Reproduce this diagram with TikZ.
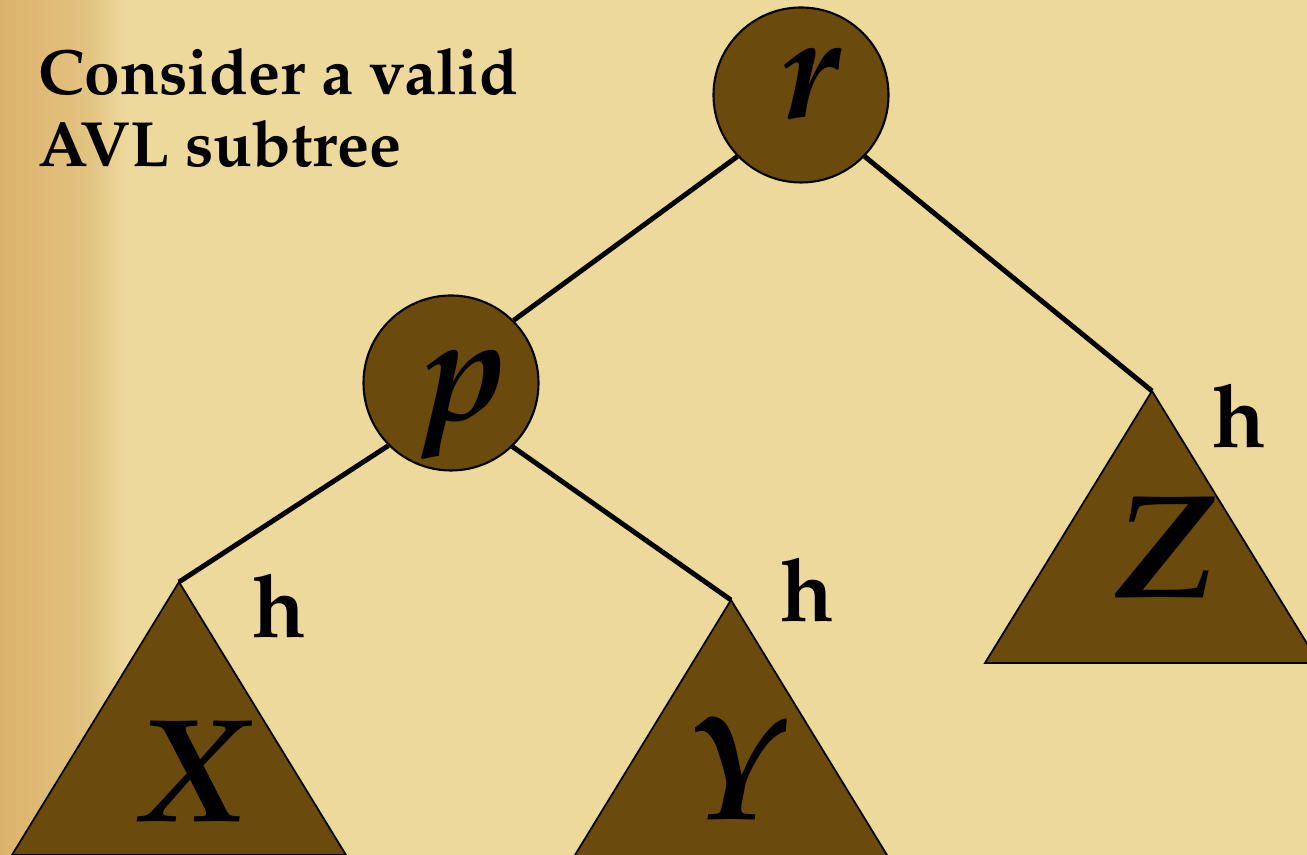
\documentclass[tikz,border=0pt]{standalone}
\usepackage[T1]{fontenc}
\usepackage{mathpazo}
\usepackage{tikz}
\usetikzlibrary{positioning,calc}
\definecolor{avlparch}{HTML}{EDD99C}
\definecolor{avledge}{HTML}{DBB26A}
\definecolor{avlbrown}{HTML}{6B4A0E}

\begin{document}
\begin{tikzpicture}[
    treenode/.style={circle, draw=black, fill=avlbrown, line width=0.6pt,
                     minimum size=17.5mm, inner sep=0pt},
    subtree/.style={draw=black, fill=avlbrown, line width=0.5pt},
    letter/.style={font=\fontsize{42}{42}\selectfont\bfseries\itshape, anchor=base, inner sep=0pt},
    hlabel/.style={font=\fontsize{25}{25}\selectfont\bfseries, anchor=base, inner sep=0pt},
    edge/.style={line width=1.4pt, draw=black}
]
\useasboundingbox (0,0) rectangle (13.07,8.55);
\clip (0,0) rectangle (13.07,8.55);
\fill[avlparch] (0,0) rectangle (13.07,8.55);
\shade[left color=avledge, right color=avledge!55!avlparch] (0,0) rectangle (0.9,8.55);
\shade[left color=avledge!55!avlparch, right color=avlparch] (0.9,0) rectangle (1.25,8.55);

\node[font=\fontsize{18.2}{20.7}\selectfont\bfseries, align=left, anchor=base west, inner sep=0pt] (caption) at (0.38,6.88) {Consider a valid\\AVL subtree};

\node[treenode] (r) at (8.01,7.60) {};
\node[treenode] (p) at (4.51,4.72) {};

\coordinate (xtop) at (1.79,2.73);
\coordinate (ytop) at (7.31,2.55);
\coordinate (ztop) at (11.52,4.64);
\draw[subtree] (xtop) -- ++(-1.67,-2.73) -- ++(3.34,0) -- cycle;
\draw[subtree] (ytop) -- ++(-1.67,-2.73) -- ++(3.34,0) -- cycle;
\draw[subtree] (ztop) -- ++(-1.67,-2.72) -- ++(3.34,0) -- cycle;

\node[letter] (rname) at (8.10,7.37) {r};
\node[letter] (pname) at (4.66,4.35) {p};
\node[letter] (xname) at (1.92,0.33) {X};
\node[letter] (yname) at (7.33,0.35) {Y};
\node[letter] (zname) at (11.65,2.57) {Z};

\node[hlabel] (xh) at (2.79,2.17) {h};
\node[hlabel] (yh) at (8.07,2.33) {h};
\node[hlabel] (zh) at (12.39,4.07) {h};

\draw[edge] (r.224) -- (p.45);
\draw[edge] (r.316) -- (ztop);
\draw[edge] (p.225) -- (xtop);
\draw[edge] (p.314) -- (ytop);
\end{tikzpicture}
\end{document}
